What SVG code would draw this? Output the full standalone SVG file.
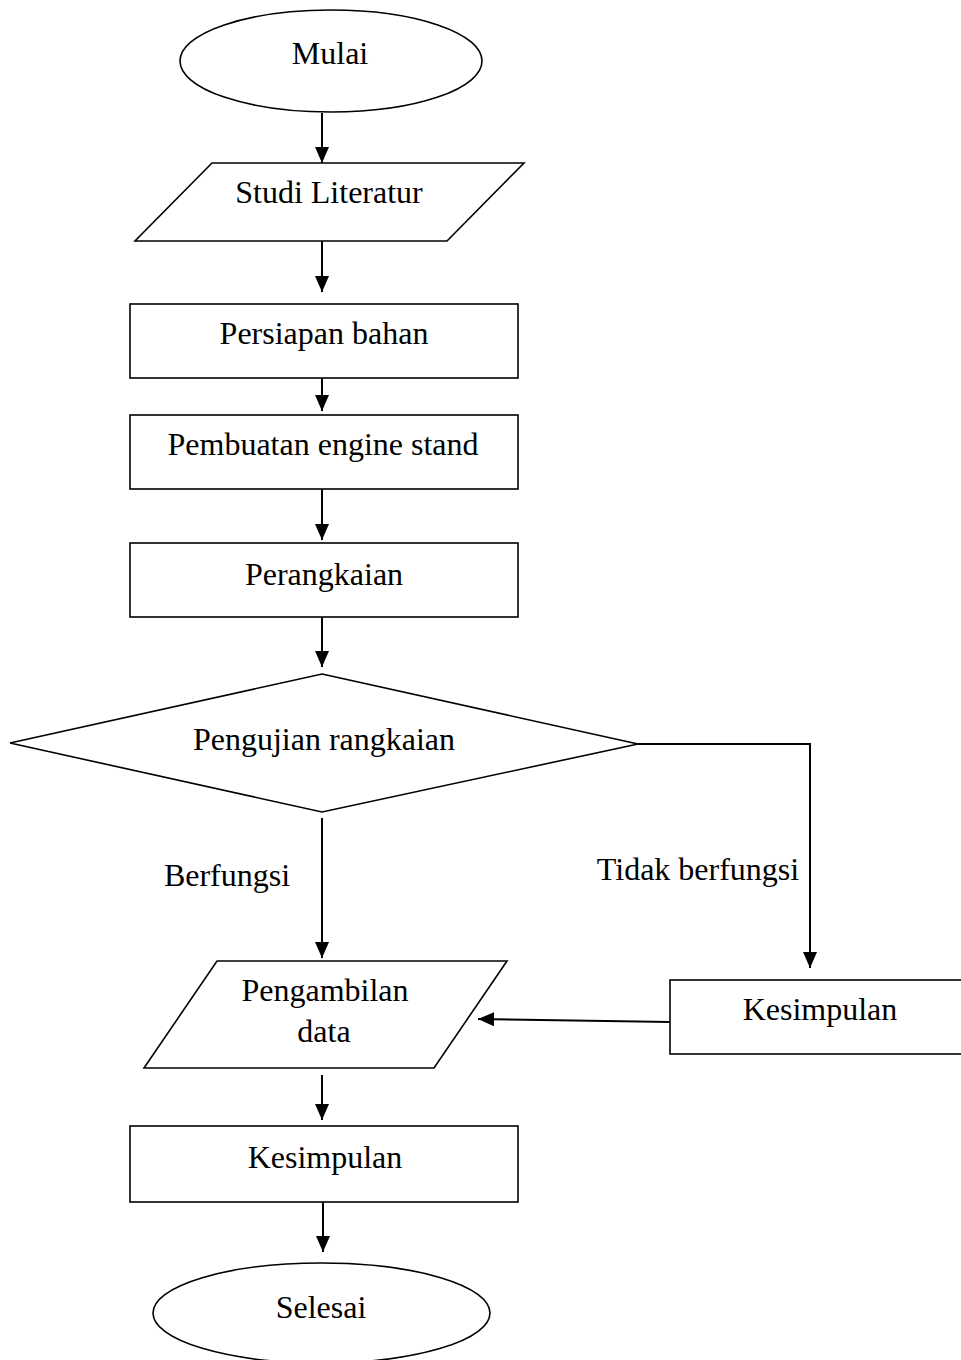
<svg xmlns="http://www.w3.org/2000/svg" width="961" height="1360" viewBox="0 0 961 1360">
<style>
.s{fill:#fff;stroke:#000;stroke-width:1.6}
.t{font-family:"Liberation Serif","Times New Roman",serif;font-size:32px;fill:#000;text-anchor:middle}
.c{fill:none;stroke:#000;stroke-width:2}
</style>
<defs>
<marker id="ah" markerUnits="userSpaceOnUse" viewBox="0 0 16 14" refX="16" refY="7" markerWidth="16" markerHeight="14" orient="auto">
<path d="M0,0 L16,7 L0,14 z" fill="#000"/>
</marker>
</defs>
<rect width="961" height="1360" fill="#fff"/>
<g id="connectors">
<line class="c" x1="322" y1="113" x2="322" y2="163" marker-end="url(#ah)"/>
<line class="c" x1="322" y1="241" x2="322" y2="292" marker-end="url(#ah)"/>
<line class="c" x1="322" y1="378" x2="322" y2="411" marker-end="url(#ah)"/>
<line class="c" x1="322" y1="489" x2="322" y2="540" marker-end="url(#ah)"/>
<line class="c" x1="322" y1="617" x2="322" y2="667" marker-end="url(#ah)"/>
<line class="c" x1="322" y1="818" x2="322" y2="958" marker-end="url(#ah)"/>
<polyline class="c" points="638,744 810,744 810,968" marker-end="url(#ah)"/>
<line class="c" x1="670" y1="1022" x2="478" y2="1019" marker-end="url(#ah)"/>
<line class="c" x1="322" y1="1075" x2="322" y2="1120" marker-end="url(#ah)"/>
<line class="c" x1="323" y1="1202" x2="323" y2="1252" marker-end="url(#ah)"/>
</g>
<g id="mulai">
<ellipse class="s" cx="331" cy="61" rx="151" ry="51"/>
<text class="t" x="330" y="64">Mulai</text>
</g>
<g id="studi">
<polygon class="s" points="212,163 524,163 447,241 135,241"/>
<text class="t" x="329" y="203">Studi Literatur</text>
</g>
<g id="persiapan">
<rect class="s" x="130" y="304" width="388" height="74"/>
<text class="t" x="324" y="344">Persiapan bahan</text>
</g>
<g id="pembuatan">
<rect class="s" x="130" y="415" width="388" height="74"/>
<text class="t" x="323" y="455">Pembuatan engine stand</text>
</g>
<g id="perangkaian">
<rect class="s" x="130" y="543" width="388" height="74"/>
<text class="t" x="324" y="585">Perangkaian</text>
</g>
<g id="pengujian">
<polygon class="s" points="322,674 638,744 322,812 10,743"/>
<text class="t" x="324" y="750">Pengujian rangkaian</text>
</g>
<g id="label-berfungsi">
<text class="t" x="227" y="886">Berfungsi</text>
</g>
<g id="label-tidak">
<text class="t" x="698" y="880">Tidak berfungsi</text>
</g>
<g id="pengambilan">
<polygon class="s" points="217,961 507,961 434,1068 144,1068"/>
<text class="t" x="325" y="1001">Pengambilan</text>
<text class="t" x="324" y="1042">data</text>
</g>
<g id="kesimpulan-kanan">
<rect class="s" x="670" y="980" width="300" height="74"/>
<text class="t" x="820" y="1020">Kesimpulan</text>
</g>
<g id="kesimpulan">
<rect class="s" x="130" y="1126" width="388" height="76"/>
<text class="t" x="325" y="1168">Kesimpulan</text>
</g>
<g id="selesai">
<ellipse class="s" cx="321.5" cy="1313" rx="168.5" ry="50"/>
<text class="t" x="321" y="1318">Selesai</text>
</g>
</svg>
